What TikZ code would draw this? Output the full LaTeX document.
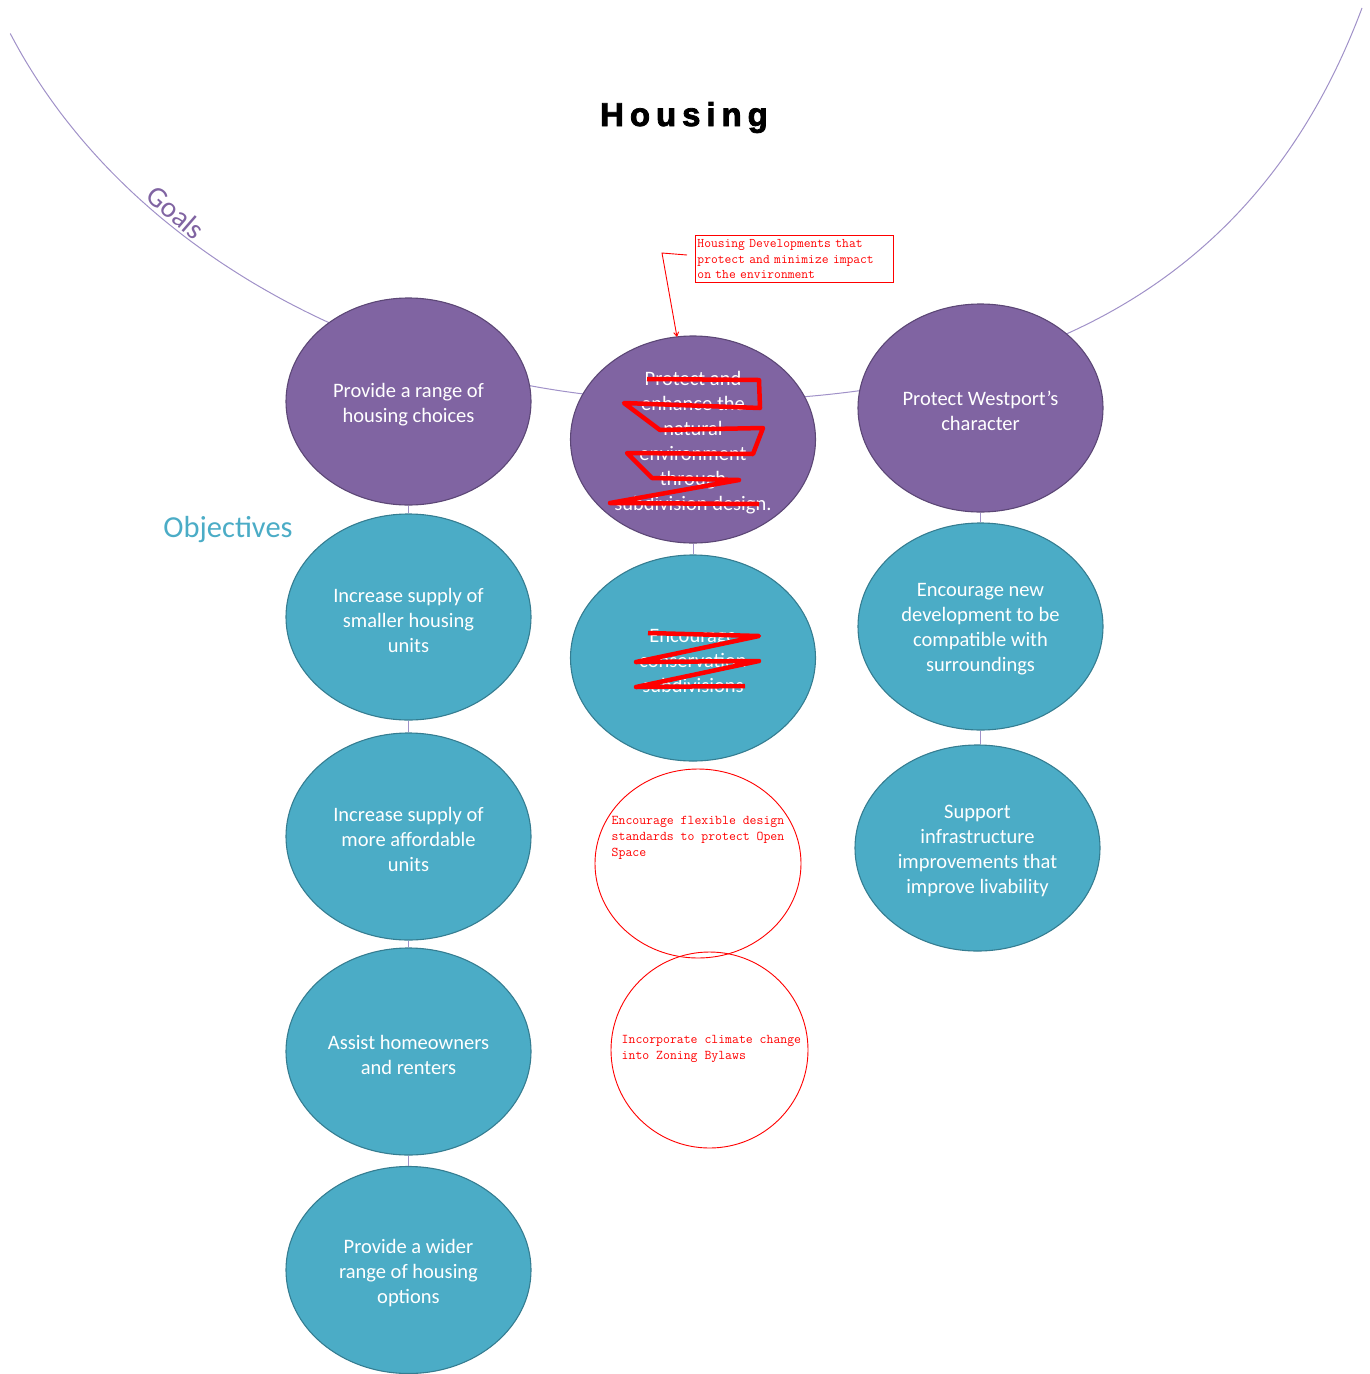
\documentclass[tikz,border=0pt]{standalone}
\usepackage{fontspec}
\setmainfont{Carlito}
\newfontfamily\calibri{Carlito}
\newfontfamily\titlefont[LetterSpace=18, BoldFeatures={FakeBold=2.4}]{Liberation Sans}
\usetikzlibrary{shapes.geometric,arrows.meta}

\definecolor{goalfill}{HTML}{8064A2}
\definecolor{goaledge}{HTML}{5C4776}
\definecolor{objfill}{HTML}{4BACC6}
\definecolor{objedge}{HTML}{357D91}
\definecolor{arcline}{RGB}{160,145,200}
\definecolor{markred}{HTML}{FF0000}

\tikzset{
  bubble/.style={ellipse, inner sep=0pt, minimum width=245pt, minimum height=207pt,
    line width=1.1pt},
  goal/.style={bubble, fill=goalfill, draw=goaledge},
  objective/.style={bubble, fill=objfill, draw=objedge},
  bubbletext/.style={inner sep=0pt, text=white, align=center, yshift=-3pt,
    font=\calibri\fontsize{20.5}{25}\selectfont},
  link/.style={draw=arcline, line width=1pt},
  draftring/.style={ellipse, draw=markred, line width=0.9pt, inner sep=0pt},
  drafttext/.style={text=markred, align=left, anchor=north west, inner sep=0pt,
    font=\ttfamily\fontsize{13.4}{16}\selectfont},
  strike/.style={draw=markred, line width=4.5pt, line join=round}
}

\begin{document}
\begin{tikzpicture}[x=1pt, y=-1pt]
\useasboundingbox (0,0) rectangle (1369,1374);

% the sweeping goal arc behind the top row: elliptic left half, curved right half
\draw[arcline, line width=1pt] plot[domain=67.2:0, samples=90, smooth]
  ({697-745*sin(\x)}, {-199+600*cos(\x)})
  .. controls (997,401) and (1249,310) .. (1362,8);

% title and section labels
\node[anchor=base, font=\titlefont\bfseries\fontsize{33}{36}\selectfont] (title) at (684,126) {Housing};
\node[rotate=-41, text=goalfill, font=\calibri\fontsize{29}{32}\selectfont] (goalslabel) at (176,212) {Goals};
\node[text=objfill, font=\calibri\fontsize{30.5}{34}\selectfont] (objlabel) at (228,530) {Objectives};

% goals
\node[goal] (gL) at (408.5,401.5) {};
\node[goal] (gC) at (693,439.5) {};
\node[goal, minimum height=208pt] (gR) at (980.5,408) {};

% objectives
\node[objective, minimum height=206pt] (oL1) at (408.5,617) {};
\node[objective] (oL2) at (408.5,836.5) {};
\node[objective] (oL3) at (408.5,1051.5) {};
\node[objective] (oL4) at (408.5,1270) {};
\node[objective, minimum height=206pt] (oC1) at (693,658) {};
\node[objective] (oR1) at (980.5,626.5) {};
\node[objective, minimum height=206pt] (oR2) at (977.5,848) {};

% bubble captions
\node[bubbletext] (gLt) at (gL.center) {Provide a range of\\housing choices};
\node[bubbletext] (gCt) at (gC.center) {Protect and\\enhance the\\natural\\environment\\through\\subdivision design.};
\node[bubbletext] (gRt) at (gR.center) {Protect Westport’s\\character};
\node[bubbletext] (oL1t) at (oL1.center) {Increase supply of\\smaller housing\\units};
\node[bubbletext] (oL2t) at (oL2.center) {Increase supply of\\more affordable\\units};
\node[bubbletext] (oL3t) at (oL3.center) {Assist homeowners\\and renters};
\node[bubbletext] (oL4t) at (oL4.center) {Provide a wider\\range of housing\\options};
\node[bubbletext] (oC1t) at (oC1.center) {Encourage\\conservation\\subdivisions};
\node[bubbletext] (oR1t) at (oR1.center) {Encourage new\\development to be\\compatible with\\surroundings};
\node[bubbletext] (oR2t) at (oR2.center) {Support\\infrastructure\\improvements that\\improve livability};

% column links
\draw[link] (gL.south) -- (oL1.north);
\draw[link] (oL1.south) -- (oL2.north);
\draw[link] (oL2.south) -- (oL3.north);
\draw[link] (oL3.south) -- (oL4.north);
\draw[link] (gC.south) -- (oC1.north);
\draw[link] (gR.south) -- (oR1.north);
\draw[link] (oR1.south) -- (oR1.south |- oR2.north);

% strike-through marks over withdrawn items
\draw[strike] (647,379) -- (759,380) -- (760,408) -- (624,403) -- (660,430)
  -- (763,428) -- (753,454) -- (627,453) -- (652,478) -- (739,480)
  -- (610,503) -- (759,504);
\draw[strike] (648,633) -- (759,636) -- (636,662) -- (759,661) -- (636,687) -- (745,686);

% proposed additions
\node[draftring, minimum width=206pt, minimum height=189pt] (new1) at (698,863.5) {};
\node[drafttext] (new1text) at (611.5,816.5) {Encourage flexible design\\standards to protect Open\\Space};
\node[draftring, minimum width=197pt, minimum height=196pt] (new2) at (709.5,1050) {};
\node[drafttext] (new2text) at (621.5,1035.5) {Incorporate climate change\\into Zoning Bylaws};

% review note
\node[anchor=north west, inner xsep=2pt, inner ysep=4pt,
  text width=194pt, align=left, font=\ttfamily\fontsize{13.2}{15.5}\selectfont,
  draw, line width=0.9pt, color=markred] (note) at (695,235)
  {Housing Developments that\\protect and minimize impact\\on the environment};
\coordinate (notetail) at (687,255);
\coordinate (notebend) at (662,253);
\coordinate (notetip) at (677,337);
\draw[markred, line width=0.9pt, -{Straight Barb[length=4pt,width=5pt]}] (notetail) -- (notebend) -- (notetip);
\end{tikzpicture}
\end{document}
